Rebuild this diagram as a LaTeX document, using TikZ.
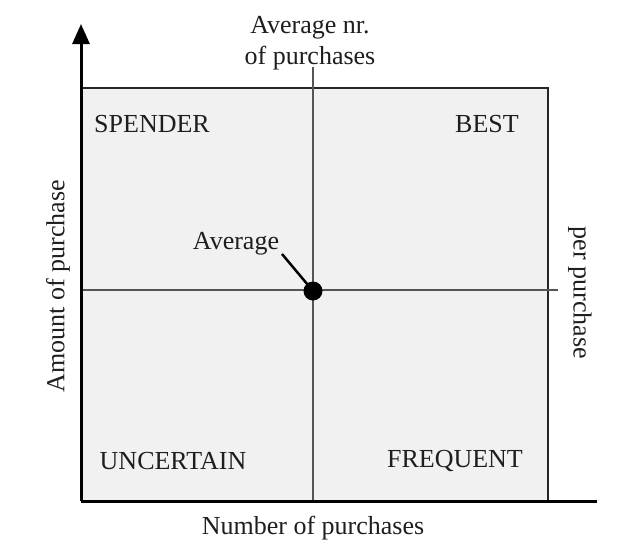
\documentclass[tikz,border=0pt]{standalone}
\usepackage{fontspec}
\setmainfont{Liberation Serif}
\usetikzlibrary{arrows.meta}
\definecolor{boxfill}{HTML}{F1F1F1}
\definecolor{inner}{HTML}{555555}
\definecolor{txt}{HTML}{1E1E1E}
\begin{document}
\begin{tikzpicture}[x=1pt,y=-1pt,
  lbl/.style={font=\fontsize{26}{31}\selectfont, text=txt, inner sep=0pt},
  axis/.style={line width=3pt, black},
  guide/.style={line width=1.3pt, inner},
  frame/.style={line width=2pt, black!85}]
\useasboundingbox (0,0) rectangle (625,550);
% box
\coordinate (bl) at (81,501);
\coordinate (tr) at (548,88);
\fill[boxfill] (bl) rectangle (tr);
\draw[frame] (81,88) -- (tr) -- (548,501);
% guides
\coordinate (vtop) at (313,67);
\coordinate (vbot) at (313,501);
\coordinate (hl) at (81,290);
\coordinate (hr) at (558,290);
\draw[guide] (vtop) -- (vbot);
\draw[guide] (hl) -- (hr);
% axes
\coordinate (ytip) at (81,24);
\coordinate (xend) at (597,501);
\draw[axis, -{Triangle[length=20pt,width=17pt]}] (bl) -- (ytip);
\draw[axis] (bl) -- (xend);
% labels
\node[lbl, align=center] (top) at (310,43) {Average nr.\\of purchases};
\node[lbl] (spender) at (152,124) {SPENDER};
\node[lbl] (best) at (487,124) {BEST};
\node[lbl] (uncertain) at (173,461) {UNCERTAIN};
\node[lbl] (frequent) at (455,461) {FREQUENT};
\node[lbl] (xlab) at (313,528) {Number of purchases};
\node[lbl, rotate=90] (ylab) at (58,286) {Amount of purchase};
\node[lbl, rotate=-90] (rlab) at (580,293) {per purchase};
% average point
\node[circle, fill=black, minimum size=19pt, inner sep=0pt] (avg) at (313,291) {};
\node[lbl] (avglbl) at (236,244) {Average};
\coordinate (avgend) at (282,254);
\draw[line width=2.5pt, black] (avgend) -- (avg.center);
\end{tikzpicture}
\end{document}
